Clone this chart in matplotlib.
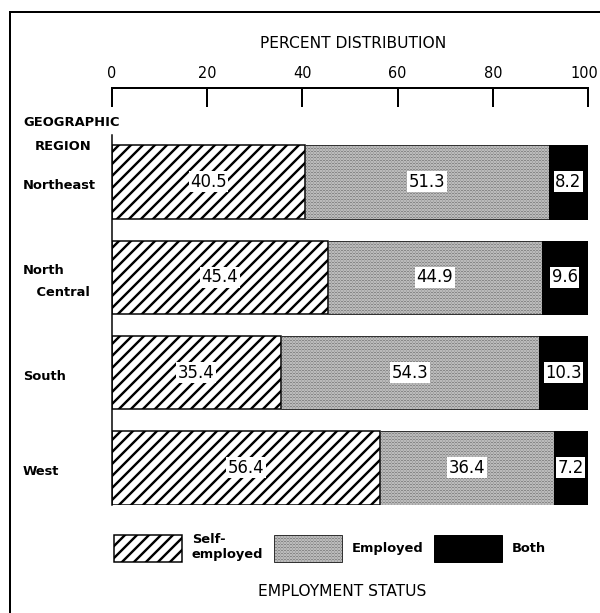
import numpy as np
import matplotlib
matplotlib.use("Agg")
import matplotlib.pyplot as plt
from matplotlib.lines import Line2D
import matplotlib.transforms as mtransforms

regions = ["Northeast", "North\nCentral", "South", "West"]
status = ["Self-\nemployed", "Employed", "Both"]
self_employed = [40.5, 45.4, 35.4, 56.4]
employed = [51.3, 44.9, 54.3, 36.4]
both = [8.2, 9.6, 10.3, 7.2]
xticks = [0, 20, 40, 60, 80, 100]

plt.rcParams['font.family'] = ['DejaVu Sans']

DPI = 72
W, H = 600, 613
fig = plt.figure(figsize=(W / DPI, H / DPI), dpi=DPI)
fig.patch.set_facecolor('white')

# outer frame (top and left visible)
fig.add_artist(Line2D([10 / W, 1.0], [1 - 12 / H, 1 - 12 / H], transform=fig.transFigure, color='black', lw=2))
fig.add_artist(Line2D([10 / W, 10 / W], [0, 1 - 12 / H], transform=fig.transFigure, color='black', lw=2))

ax = fig.add_axes([112 / W, 108 / H, 476 / W, 417 / H])
y = np.arange(len(regions))
h = 0.77
se = np.array(self_employed)
em = np.array(employed)
bo = np.array(both)

HLW_STRIPE = 2.4
HLW_DOT = 0.5

def set_hlw(patches, lw):
    for p in patches:
        if hasattr(p, 'set_hatch_linewidth'):
            p.set_hatch_linewidth(lw)

plt.rcParams['hatch.linewidth'] = HLW_STRIPE
b1 = ax.barh(y, se, height=h, color='white', edgecolor='black', hatch='//', linewidth=1.5, label=status[0])
set_hlw(b1.patches, HLW_STRIPE)
plt.rcParams['hatch.linewidth'] = HLW_DOT
b2 = ax.barh(y, em, left=se, height=h, color='#d0d0d0', edgecolor='#333333', hatch='........', linewidth=1.0, label=status[1])
set_hlw(b2.patches, HLW_DOT)
b3 = ax.barh(y, bo, left=se + em, height=h, color='black', edgecolor='black', linewidth=1.0, label=status[2])

for lefts, vals in [(np.zeros(4), se), (se, em), (se + em, bo)]:
    for yi, l, v in zip(y, lefts, vals):
        ax.text(l + v / 2, yi, f"{v:.1f}", ha='center', va='center', fontsize=16.5,
                bbox=dict(facecolor='white', edgecolor='none', pad=1.5))

ax.set_xlim(0, 100)
ax.set_ylim(3.39, -0.986)
ax.set_xticks(xticks)
ax.set_xticklabels([str(t) for t in xticks])
ax.set_yticks([])
ax.xaxis.set_ticks_position('top')
ax.tick_params(axis='x', top=True, bottom=False, labeltop=True, labelbottom=False,
               direction='in', length=19, width=2, pad=7, labelsize=14.5)
# nudge the last tick label so it stays inside the figure
last_tick = ax.xaxis.get_major_ticks()[-1]
last_tick.label2.set_transform(last_tick.label2.get_transform()
                               + mtransforms.ScaledTranslation(-4 / DPI, 0, fig.dpi_scale_trans))
for s in ['bottom', 'right']:
    ax.spines[s].set_visible(False)
ax.spines['top'].set_linewidth(2)
ax.spines['left'].set_linewidth(1.5)
ax.spines['left'].set_bounds(-0.493, 3.39)
ax.patch.set_alpha(0)

# region labels
trans = mtransforms.blended_transform_factory(fig.transFigure, ax.transData)
trans = mtransforms.offset_copy(trans, fig=fig, x=0, y=-4, units='points')
for yi, r in zip(y, regions):
    ax.text(23 / W, yi, r.replace("\n", "\n   "), transform=trans, ha='left', va='center',
            fontsize=13, fontweight='bold', linespacing=1.9)

fig.text(23 / W, 1 - 123 / H, "GEOGRAPHIC", ha='left', va='center', fontsize=13, fontweight='bold')
fig.text(35 / W, 1 - 146 / H, "REGION", ha='left', va='center', fontsize=13, fontweight='bold')
fig.text(353 / W, 1 - 43 / H, "PERCENT DISTRIBUTION", ha='center', va='center', fontsize=15.5)
fig.text(342 / W, 1 - 591 / H, "EMPLOYMENT STATUS", ha='center', va='center', fontsize=15.5)

plt.rcParams['hatch.linewidth'] = HLW_STRIPE
leg = fig.legend(handles=[b1, b2, b3], labels=status, ncol=3, frameon=False,
                 loc='center', bbox_to_anchor=(330 / W, 1 - 547.5 / H),
                 fontsize=13, handlelength=68 / 13, handleheight=37 / 13,
                 handletextpad=0.77, columnspacing=0.8, borderpad=0, borderaxespad=0)
hands = leg.legend_handles
set_hlw([hands[0]], HLW_STRIPE)
set_hlw([hands[1]], HLW_DOT)
for t in leg.get_texts():
    t.set_fontweight('bold')

fig.savefig("out.png", dpi=DPI, facecolor='white')
